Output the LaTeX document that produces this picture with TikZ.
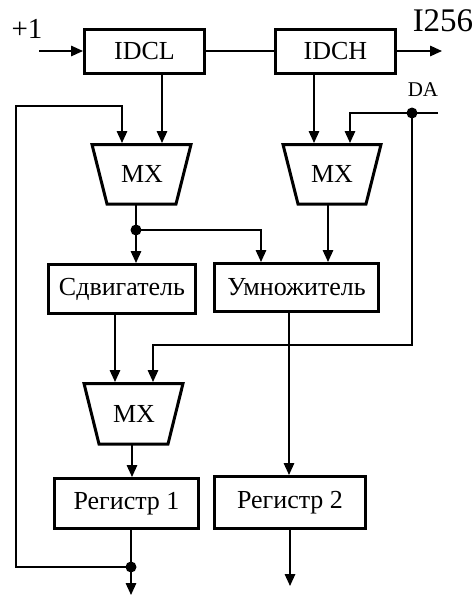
\documentclass[tikz,border=0pt]{standalone}
\usepackage{fontspec}
\setmainfont{Liberation Serif}
\usetikzlibrary{arrows.meta}
\begin{document}
\begin{tikzpicture}[x=1pt,y=-1pt,
  conn/.style={line width=1.6pt},
  arr/.style={conn,-{Triangle[length=12pt,width=10.5pt]}},
  blk/.style={draw,line width=3pt,inner sep=0pt,font=\fontsize{26}{28}\selectfont},
  mux/.style={draw,line width=3pt,line join=miter},
  muxlbl/.style={font=\fontsize{26}{28}\selectfont},
  dot/.style={circle,fill,inner sep=0pt,minimum size=11pt}]
\useasboundingbox[fill=white] (0,0) rectangle (476,595);
% blocks
\node[blk,minimum width=120pt,minimum height=44pt] (IDCL) at (144.5,51) {IDCL};
\node[blk,minimum width=120pt,minimum height=44pt] (IDCH) at (335.5,51) {IDCH};
\node[blk,minimum width=147pt,minimum height=49pt] (Sdv) at (122,289) {Сдвигатель};
\node[blk,minimum width=164pt,minimum height=48pt] (Umn) at (296.5,287.5) {Умножитель};
\node[blk,minimum width=144pt,minimum height=50pt] (Reg1) at (126.5,503.5) {Регистр 1};
\node[blk,minimum width=151pt,minimum height=52pt] (Reg2) at (290,502.5) {Регистр 2};
% multiplexers
\draw[mux] (92,144.5) -- (191,144.5) -- (176,204) -- (107,204) -- cycle;
\node[muxlbl] (mx1) at (142,174) {MX};
\draw[mux] (283,144.5) -- (381,144.5) -- (366,204) -- (298,204) -- cycle;
\node[muxlbl] (mx2) at (332,174) {MX};
\draw[mux] (84,383.5) -- (183,383.5) -- (168,444) -- (99,444) -- cycle;
\node[muxlbl] (mx3) at (134,414) {MX};
% labels
\node[font=\fontsize{29}{31}\selectfont] (plus1) at (27,29) {+1};
\node[font=\fontsize{33}{35}\selectfont] (i256) at (443,21) {I256};
\node[font=\fontsize{21}{23}\selectfont] (da) at (423,90) {DA};
% coordinates
\coordinate (in1) at (39,51);
\coordinate (out3) at (442,51);
\coordinate (mx1in1) at (122,143);
\coordinate (mx1in2) at (162,143);
\coordinate (mx1out) at (136,204);
\coordinate (mx2in1) at (314,143);
\coordinate (mx2in2) at (350,143);
\coordinate (mx2out) at (328,204);
\coordinate (mx3in1) at (115,382);
\coordinate (mx3in2) at (153,382);
\coordinate (mx3out) at (132,444);
\coordinate (umnin1) at (261,262);
\coordinate (r2in) at (289,475);
\coordinate (dar) at (438,113);
\coordinate (bend) at (412,345);
\coordinate (fb) at (16,106);
\coordinate (out1) at (131,595);
\coordinate (out2) at (290,586);
\node[dot] (daj) at (412,113) {};
\node[dot] (j1) at (136,230) {};
\node[dot] (j2) at (131,567) {};
% connectors
\draw[arr] (in1) -- (IDCL.west);
\draw[conn] (IDCL.east) -- (IDCH.west);
\draw[arr] (IDCH.east) -- (out3);
\draw[arr] (mx1in2 |- IDCL.south) -- (mx1in2);
\draw[arr] (mx2in1 |- IDCH.south) -- (mx2in1);
\draw[conn] (dar) -- (daj.center);
\draw[arr] (daj.center) -| (mx2in2);
\draw[arr] (daj.center) -- (bend) -| (mx3in2);
\draw[conn] (mx1out) -- (j1.center);
\draw[arr] (j1.center) -- (j1 |- Sdv.north);
\draw[arr] (j1.center) -| (umnin1);
\draw[arr] (mx2out) -- (mx2out |- Umn.north);
\draw[arr] (mx3in1 |- Sdv.south) -- (mx3in1);
\draw[arr] (r2in |- Umn.south) -- (r2in);
\draw[arr] (mx3out) -- (mx3out |- Reg1.north);
\draw[conn] (j2 |- Reg1.south) -- (j2.center);
\draw[arr] (j2.center) -- (out1);
\draw[arr] (j2.center) -| (fb) -| (mx1in1);
\draw[arr] (out2 |- Reg2.south) -- (out2);
\end{tikzpicture}
\end{document}
